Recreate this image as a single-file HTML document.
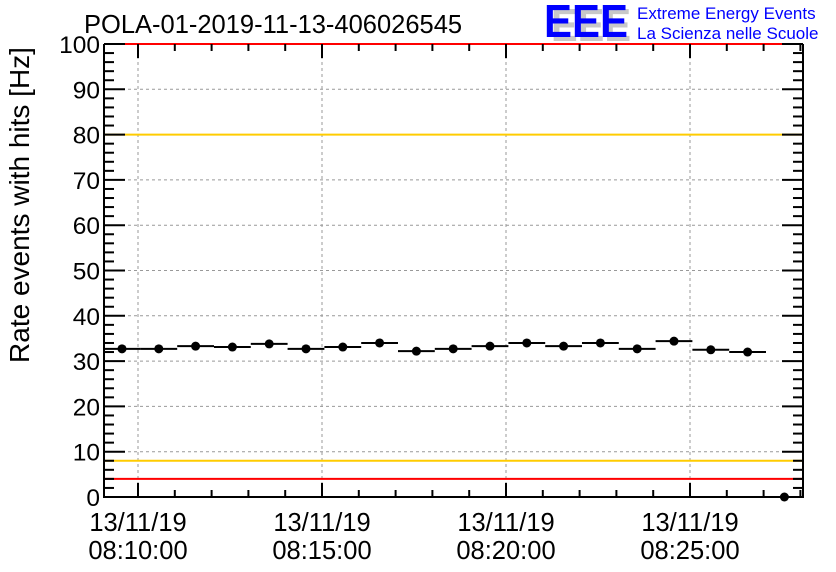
<!DOCTYPE html>
<html><head><meta charset="utf-8"><style>
body{margin:0;background:#fff}
svg{display:block;font-family:"Liberation Sans",sans-serif}
</style></head><body>
<svg id="c" width="836" height="572" viewBox="0 0 836 572">
<rect width="836" height="572" fill="#fff"/>
<text x="84" y="33" font-size="25.5" fill="#000">POLA-01-2019-11-13-406026545</text>
<g>
<text x="551" y="41" font-size="46" font-weight="bold" fill="#c8c8c8" textLength="80" lengthAdjust="spacingAndGlyphs">EEE</text>
<text x="544" y="37" font-size="46" font-weight="bold" fill="#0000ff" textLength="84" lengthAdjust="spacingAndGlyphs">EEE</text>
<text x="637" y="19" font-size="17" fill="#0000ff">Extreme Energy Events</text>
<text x="637" y="39" font-size="17" fill="#0000ff">La Scienza nelle Scuole</text>
</g>
<text transform="translate(29,205) rotate(-90)" text-anchor="middle" font-size="28" fill="#000">Rate events with hits [Hz]</text>
<g id="grid"></g><g id="axes"></g><g id="marks"></g>
</svg>
<script>
const xMinutes=[-0.435,0.565,1.565,2.565,3.565,4.565,5.565,6.565,7.565,8.565,9.565,10.565,11.565,12.565,13.565,14.565,15.565,16.565,17.565];
const rates=[32.7,32.7,33.3,33.1,33.8,32.7,33.1,34.0,32.2,32.7,33.3,34.0,33.3,34.0,32.7,34.4,32.5,32.0,0];
const yTicks=[0,10,20,30,40,50,60,70,80,90,100];
const xTickMinutes=[0,5,10,15];
const xTickLabels=[["13/11/19","08:10:00"],["13/11/19","08:15:00"],["13/11/19","08:20:00"],["13/11/19","08:25:00"]];
const refLines=[{v:80,c:"#ffcc00"},{v:8,c:"#ffcc00"},{v:4,c:"#ff0000"},{v:100,c:"#ff0000"}];
const L=104,R=803,T=44,B=497;
const ys=v=>B-(v/100)*(B-T);
const xs=m=>138+m*36.8;
const NS="http://www.w3.org/2000/svg";
function mk(p,t,a){const e=document.createElementNS(NS,t);for(const k in a)e.setAttribute(k,a[k]);p.appendChild(e);return e;}
const grid=document.getElementById('grid'),axes=document.getElementById('axes'),marks=document.getElementById('marks');
yTicks.forEach(v=>{if(v>0&&v<100){const l=mk(grid,'line',{x1:L,x2:R,y1:ys(v),y2:ys(v),stroke:'#999','stroke-dasharray':'3,3','stroke-width':1});

}
const t=mk(axes,'text',{x:L-4,y:ys(v)+9,'text-anchor':'end','font-size':24.5});t.textContent=v;

});
xTickMinutes.forEach((m,i)=>{const l=mk(grid,'line',{x1:xs(m),x2:xs(m),y1:T,y2:B,stroke:'#999','stroke-dasharray':'3,3','stroke-width':1});


const t=mk(axes,'text',{x:xs(m),y:531,'text-anchor':'middle','font-size':25.5});t.textContent=xTickLabels[i][0];


const t2=mk(axes,'text',{x:xs(m),y:559,'text-anchor':'middle','font-size':25.5});t2.textContent=xTickLabels[i][1];

});
refLines.forEach(r=>{const l=mk(grid,'line',{x1:L,x2:R,y1:ys(r.v),y2:ys(r.v),stroke:r.c,'stroke-width':2});

});
const f=mk(axes,'path',{d:`M${L},${T}V${B}H${R}V${T}`,fill:'none',stroke:'#000','stroke-width':2});


for(let v=0;v<=100;v+=2){const maj=v%10===0,len=maj?21:10;
mk(axes,'line',{x1:L,x2:L+len,y1:ys(v),y2:ys(v),stroke:'#000','stroke-width':2});
mk(axes,'line',{x1:R-len,x2:R,y1:ys(v),y2:ys(v),stroke:'#000','stroke-width':2});}
for(let m=-1;m<=18;m++){const x=xs(m);if(x<L||x>R)continue;const len=m%5===0?14:7;
mk(axes,'line',{x1:x,x2:x,y1:B,y2:B-len,stroke:'#000','stroke-width':2});
mk(axes,'line',{x1:x,x2:x,y1:T,y2:T+len,stroke:'#000','stroke-width':2});}
xMinutes.forEach((m,i)=>{const x=xs(m),y=ys(rates[i]);
const e=mk(marks,'line',{x1:x-18.4,x2:x+18.4,y1:y,y2:y,stroke:'#000','stroke-width':2});


const c=mk(marks,'circle',{cx:x,cy:y,r:4.5,fill:'#000'});

});
</script>
</body></html>
